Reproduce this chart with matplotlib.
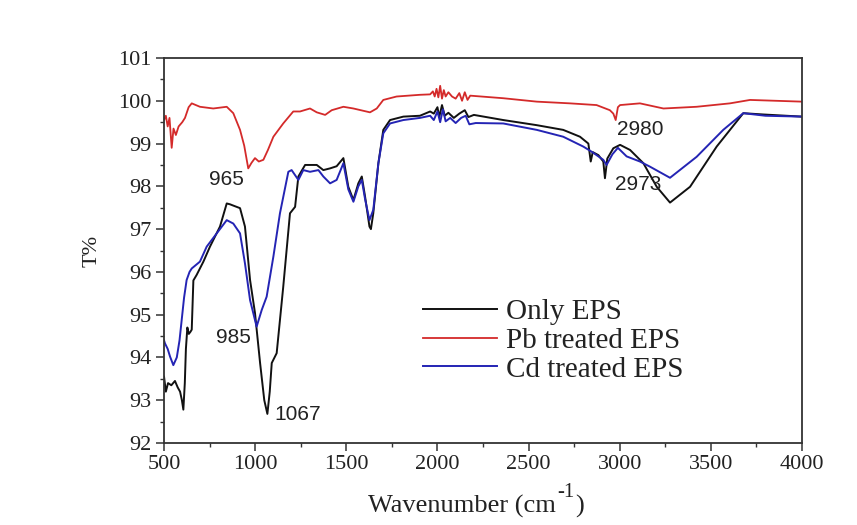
import matplotlib.pyplot as plt
from matplotlib.ticker import MultipleLocator

# Only EPS
only_x = [500, 510, 522, 540, 560, 575, 588, 598, 606, 614, 620, 628, 636, 645, 652, 661,
          679, 716, 752, 807, 844, 862, 880, 917, 944, 972, 999, 1027, 1050, 1067, 1080,
          1091, 1118, 1154, 1191, 1219, 1237, 1274, 1301, 1338, 1374, 1411, 1447, 1484,
          1511, 1539, 1566, 1585, 1603, 1627, 1635, 1648, 1676, 1703, 1740, 1813, 1904,
          1960, 1980, 2000, 2010, 2025, 2040, 2060, 2090, 2120, 2150, 2170, 2200, 2361,
          2545, 2690, 2782, 2828, 2841, 2852, 2883, 2910, 2919, 2932, 2965, 3002, 3057,
          3130, 3203, 3276, 3386, 3532, 3678, 3788, 4000]
only_y = [93.55, 93.2, 93.4, 93.35, 93.45, 93.3, 93.2, 93.0, 92.78, 93.4, 94.2, 94.7, 94.55,
          94.6, 94.65, 95.8, 95.93, 96.24, 96.59, 97.06, 97.6, 97.58, 97.55, 97.49, 97.06,
          95.81, 95.04, 93.87, 93.0, 92.68, 93.2, 93.87, 94.1, 95.65, 97.37, 97.52, 98.23,
          98.5, 98.5, 98.5, 98.38, 98.42, 98.47, 98.66, 97.99, 97.68, 98.07, 98.23, 97.76,
          97.06, 97.0, 97.37, 98.54, 99.32, 99.55, 99.63, 99.65,
          99.75, 99.7, 99.85, 99.62, 99.9, 99.65, 99.72, 99.6, 99.7, 99.78, 99.62, 99.67,
          99.55, 99.43, 99.32, 99.16, 99.0, 98.58, 98.8, 98.73, 98.58, 98.19, 98.65, 98.89,
          98.97, 98.85, 98.54, 97.99, 97.62, 97.99, 98.93, 99.71, 99.68, 99.63]

# Pb treated EPS
pb_x = [500, 510, 520, 530, 542, 552, 565, 580, 600, 615, 635, 652, 697, 770, 844, 880, 917,
        940, 962, 980, 999, 1020, 1045, 1070, 1100, 1154, 1209, 1246, 1301, 1338, 1384, 1420,
        1484, 1539, 1630, 1667, 1703, 1776, 1904, 1960, 1975, 1985, 1995, 2005, 2015, 2025,
        2035, 2045, 2060, 2080, 2100, 2120, 2135, 2150, 2165, 2180, 2361, 2545, 2727, 2873,
        2946, 2965, 2978, 2990, 3002, 3111, 3240, 3422, 3605, 3715, 4000]
pb_y = [99.55, 99.65, 99.4, 99.6, 98.9, 99.35, 99.2, 99.4, 99.5, 99.6, 99.85, 99.94, 99.86,
        99.82, 99.86, 99.71, 99.32, 98.95, 98.42, 98.55, 98.66, 98.58, 98.62, 98.85, 99.16,
        99.47, 99.75, 99.75, 99.82, 99.73, 99.67, 99.78, 99.86, 99.82, 99.73, 99.82, 100.02,
        100.1, 100.14, 100.15, 100.22, 100.1, 100.28, 100.08, 100.35, 100.05, 100.25, 100.1,
        100.2, 100.1, 100.05, 100.18, 100.0, 100.2, 100.02, 100.12, 100.06, 99.98, 99.94,
        99.9, 99.78, 99.7, 99.55, 99.85, 99.9, 99.94, 99.82, 99.86, 99.94, 100.02, 99.98]

# Cd treated EPS
cd_x = [500, 505, 520, 533, 551, 570, 585, 597, 610, 624, 640, 652, 697, 734, 789, 844, 880,
        917, 944, 972, 1008, 1036, 1063, 1100, 1136, 1182, 1200, 1237, 1264, 1301, 1347, 1374,
        1411, 1447, 1484, 1511, 1539, 1566, 1585, 1603, 1627, 1648, 1676, 1703, 1740, 1813,
        1904, 1960, 1980, 2000, 2015, 2030, 2045, 2070, 2100, 2130, 2155, 2175, 2210, 2361,
        2545, 2690, 2800, 2846, 2910, 2928, 2960, 2990, 3038, 3111, 3166, 3276, 3422, 3568,
        3678, 3800, 4000]
cd_y = [94.4, 94.33, 94.2, 94.02, 93.82, 94.0, 94.4, 94.88, 95.4, 95.81, 96.0, 96.08, 96.24,
        96.59, 96.9, 97.21, 97.13, 96.9, 96.2, 95.34, 94.72, 95.11, 95.42, 96.36, 97.37,
        98.34, 98.38, 98.15, 98.38, 98.34, 98.38, 98.23, 98.07, 98.15, 98.54, 97.93, 97.64,
        98.0, 98.15, 97.7, 97.21, 97.45, 98.54, 99.24, 99.47, 99.55, 99.6,
        99.65, 99.55, 99.75, 99.5, 99.8, 99.52, 99.6, 99.48, 99.6, 99.65, 99.45, 99.48,
        99.47, 99.32, 99.16, 98.93, 98.81, 98.62, 98.5, 98.75, 98.9, 98.7, 98.58, 98.46,
        98.2, 98.69, 99.32, 99.71, 99.65, 99.63]

# peak labels
peak_text = ["965", "985", "1067", "2980", "2973"]
peak_x = [845, 880, 1232, 3111, 3103]
peak_y = [98.15, 94.47, 92.67, 99.33, 98.04]

serif = "Liberation Serif"
sans = "Liberation Sans"

fig = plt.figure(figsize=(8.57, 5.25), dpi=100)
ax = fig.add_axes([0.1914, 0.1562, 0.7444, 0.7333])

ax.plot(only_x, only_y, color="#111111", lw=1.4, label="Only EPS")
ax.plot(pb_x, pb_y, color="#d42a2a", lw=1.3, label="Pb treated EPS")
ax.plot(cd_x, cd_y, color="#2424b4", lw=1.4, label="Cd treated EPS")

for t, x, y in zip(peak_text, peak_x, peak_y):
    ax.text(x, y, t, fontfamily=sans, fontsize=15, color="#222222",
            ha="center", va="center")

ax.set_xlim(500, 4000)
ax.set_ylim(92, 101)
ax.xaxis.set_major_locator(MultipleLocator(500))
ax.xaxis.set_minor_locator(MultipleLocator(250))
ax.yaxis.set_major_locator(MultipleLocator(1))
ax.yaxis.set_minor_locator(MultipleLocator(0.5))
ax.tick_params(which="major", length=5.5, width=1.1, direction="out",
               top=False, right=False, color="#333333")
ax.tick_params(which="minor", length=3, width=1.0, direction="out",
               top=False, right=False, color="#333333")
for lab in ax.get_xticklabels() + ax.get_yticklabels():
    lab.set_fontfamily(serif)
    lab.set_fontsize(16)
    lab.set_color("#222222")
for sp in ax.spines.values():
    sp.set_linewidth(1.3)
    sp.set_color("#333333")

# x label built from three texts so the superscript stays in the serif face
ax.text(0.615, -0.18, "Wavenumber (cm", transform=ax.transAxes, fontfamily=serif,
        fontsize=19, color="#222222", ha="right", va="baseline")
ax.text(0.617, -0.14, "-1", transform=ax.transAxes, fontfamily=serif,
        fontsize=15, color="#222222", ha="left", va="baseline")
ax.text(0.645, -0.18, ")", transform=ax.transAxes, fontfamily=serif,
        fontsize=19, color="#222222", ha="left", va="baseline")
ax.set_ylabel("T%", fontfamily=serif, fontsize=16, color="#222222", labelpad=12)

leg = ax.legend(loc="upper left", bbox_to_anchor=(0.406, 0.375), frameon=False,
                prop={"family": serif, "size": 21}, handlelength=2.55,
                handletextpad=0.3, labelspacing=0.08, borderpad=0, borderaxespad=0)
for t in leg.get_texts():
    t.set_color("#222222")

fig.savefig("out.png", dpi=100)
